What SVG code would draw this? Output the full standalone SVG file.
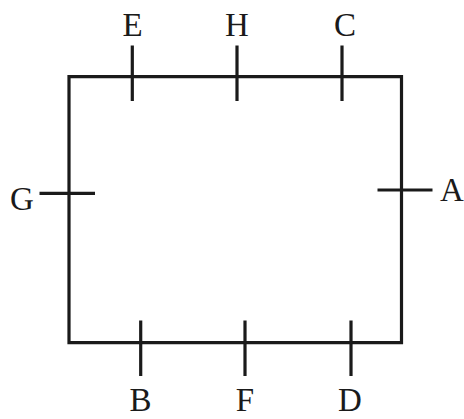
<svg xmlns="http://www.w3.org/2000/svg" width="464" height="419" viewBox="0 0 464 419">
<style>
.ln{stroke:#1a1a1a;stroke-width:3.2;fill:none;stroke-linecap:butt}
.lb{font-family:"Liberation Serif","Times New Roman",serif;font-size:33px;fill:#1a1a1a}
.mid{text-anchor:middle}
</style>
<rect width="464" height="419" fill="#ffffff"/>
<g id="connectors">
<path class="ln" d="M69 76.7 H401.5 V342.7 H69 Z"/>
</g>
<g id="E"><line class="ln" x1="132.3" y1="45.5" x2="132.3" y2="101"/><text class="lb mid" x="132.5" y="36">E</text></g>
<g id="H"><line class="ln" x1="237" y1="45.5" x2="237" y2="101"/><text class="lb mid" x="237" y="36">H</text></g>
<g id="C"><line class="ln" x1="342" y1="45.5" x2="342" y2="101"/><text class="lb mid" x="345" y="36">C</text></g>
<g id="G"><line class="ln" x1="39.5" y1="193.3" x2="95" y2="193.3"/><text class="lb" x="10" y="210">G</text></g>
<g id="A"><line class="ln" x1="377.5" y1="190" x2="432.5" y2="190"/><text class="lb" x="440" y="201">A</text></g>
<g id="B"><line class="ln" x1="140.7" y1="320.5" x2="140.7" y2="376"/><text class="lb mid" x="140.5" y="411">B</text></g>
<g id="F"><line class="ln" x1="245" y1="320.5" x2="245" y2="376"/><text class="lb mid" x="245" y="411">F</text></g>
<g id="D"><line class="ln" x1="351" y1="320.5" x2="351" y2="376"/><text class="lb mid" x="350" y="411">D</text></g>
</svg>
